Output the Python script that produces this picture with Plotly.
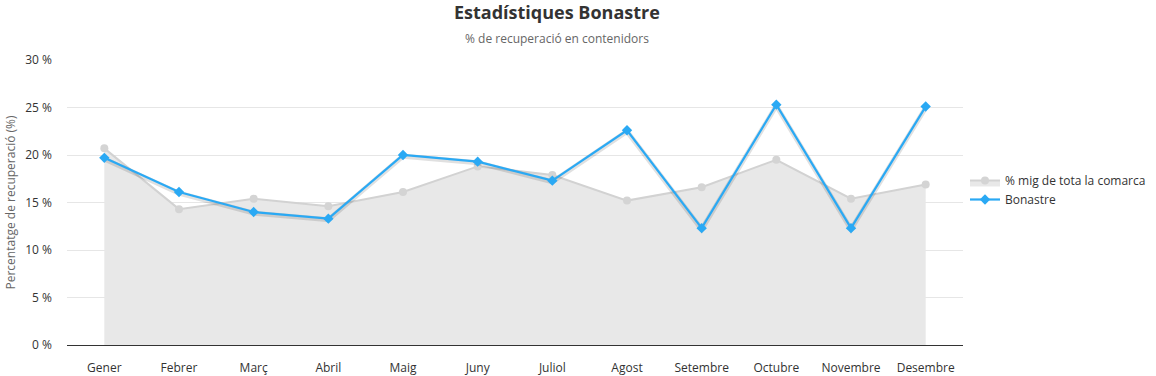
import plotly.graph_objects as go

months = ["Gener", "Febrer", "Març", "Abril", "Maig", "Juny", "Juliol",
          "Agost", "Setembre", "Octubre", "Novembre", "Desembre"]
comarca = [20.7, 14.3, 15.4, 14.6, 16.1, 18.8, 17.9, 15.2, 16.6, 19.5, 15.4, 16.9]
bonastre = [19.7, 16.1, 14.0, 13.3, 20.0, 19.3, 17.3, 22.6, 12.3, 25.3, 12.3, 25.1]

FONT = "Open Sans, Noto Sans, sans-serif"
PLOT_TOP, PLOT_BOTTOM = 60, 345
PH = PLOT_BOTTOM - PLOT_TOP


def py(px):
    return (PLOT_BOTTOM - px) / PH


def pxx(px):
    return (px - 67) / 896


fig = go.Figure()
fig.add_trace(go.Scatter(
    x=months, y=comarca, name="% mig de tota la comarca",
    mode="lines+markers", fill="tozeroy", fillcolor="#e8e8e8",
    line=dict(color="#d2d2d2", width=2),
    marker=dict(symbol="circle", size=8, color="#d4d4d4"),
))
# shadow for blue line
fig.add_trace(go.Scatter(
    x=months, y=[v - 0.12 for v in bonastre], mode="lines", showlegend=False,
    hoverinfo="skip", line=dict(color="rgba(0,0,0,0.12)", width=5),
))
fig.add_trace(go.Scatter(
    x=months, y=bonastre, name="Bonastre", mode="lines+markers",
    line=dict(color="#2aa9f4", width=2.2),
    marker=dict(symbol="diamond", size=8, color="#2aa9f4"),
))

fig.update_layout(
    width=1156, height=376,
    margin=dict(l=67, r=193, t=60, b=31, autoexpand=False),
    paper_bgcolor="white", plot_bgcolor="white",
    font=dict(family=FONT, size=12, color="#333333"),
    showlegend=True,
    legend=dict(x=pxx(965), xanchor="left", y=py(190), yanchor="middle",
                font=dict(size=12, color="#333333"), tracegroupgap=0,
                itemwidth=30),
    annotations=[
        dict(text="<b>Estadístiques Bonastre</b>", xref="paper", yref="paper",
             x=pxx(557), y=py(12), xanchor="center", yanchor="middle",
             showarrow=False, font=dict(size=18, color="#333333", family=FONT)),
        dict(text="% de recuperació en contenidors", xref="paper", yref="paper",
             x=pxx(557), y=py(38), xanchor="center", yanchor="middle",
             showarrow=False, font=dict(size=12, color="#666666", family=FONT)),
        dict(text="Percentatge de recuperació (%)", xref="paper", yref="paper",
             x=pxx(10), y=0.5, xanchor="center", yanchor="middle", textangle=-90,
             showarrow=False, font=dict(size=12, color="#666666", family=FONT)),
    ],
)
fig.update_xaxes(
    type="category", range=[-0.5, 11.5], showgrid=False, automargin=False,
    showline=True, linecolor="#333333", linewidth=1, ticklabelstandoff=12,
    ticks="", tickfont=dict(size=12, color="#333333"), zeroline=False,
)
fig.update_yaxes(
    range=[0, 30], dtick=5, ticksuffix=" %", showgrid=True, gridcolor="#e6e6e6",
    zeroline=False, showline=False, tickfont=dict(size=12, color="#333333"),
    automargin=False, ticklabelstandoff=14,
)

fig.write_html("out.html", config={"displayModeBar": False},
               post_script="document.body.style.margin='0';document.body.style.overflow='hidden';")
